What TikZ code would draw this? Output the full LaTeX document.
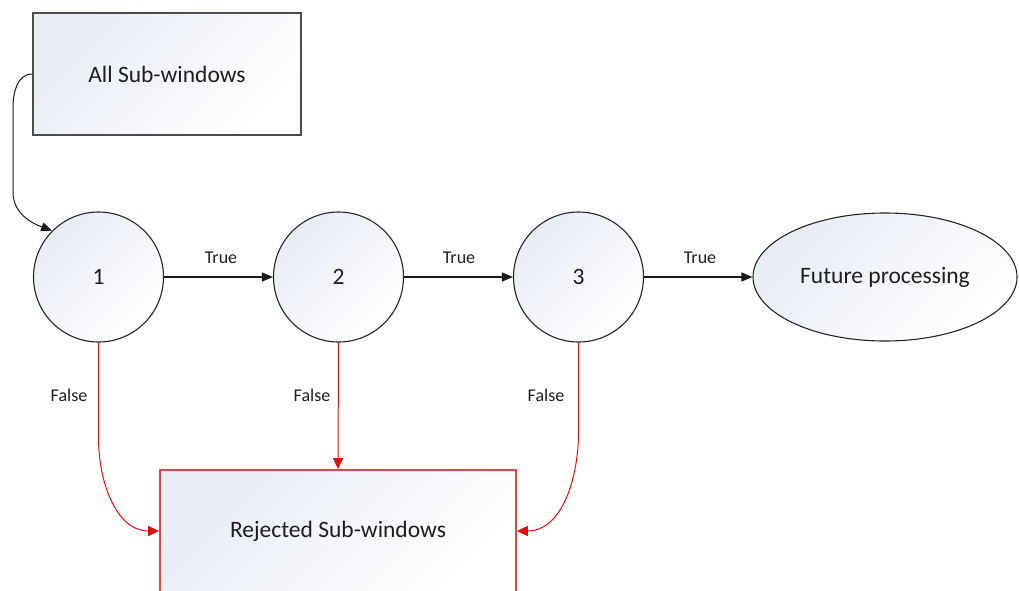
\documentclass[tikz,border=0pt]{standalone}
\usepackage{fontspec}
\setmainfont{Carlito}
\usetikzlibrary{shapes.geometric,arrows.meta}
\definecolor{paleblue}{HTML}{E8ECF5}
\definecolor{inkgray}{HTML}{1E1E1E}
\definecolor{rejred}{HTML}{E01010}
\definecolor{rejedge}{HTML}{D24A4A}
\tikzset{
  softfill/.style={shading=axis, top color=paleblue, bottom color=white, shading angle=45},
  bigtext/.style={font=\fontsize{23.5}{26}\selectfont, text=inkgray},
  boxnode/.style={draw=black!70, line width=1.4pt, softfill, bigtext, rectangle},
  stage/.style={draw=black!85, line width=1.1pt, softfill, bigtext, circle, minimum size=130pt, inner sep=0pt},
  goal/.style={draw=black!85, line width=1.1pt, softfill, bigtext, ellipse, minimum width=264pt, minimum height=128pt, inner sep=0pt},
  rejbox/.style={draw=rejedge, line width=1.6pt, softfill, bigtext, rectangle},
  lbl/.style={font=\fontsize{18}{20}\selectfont, text=inkgray, inner sep=0pt},
  yes/.style={draw=black!90, line width=1.2pt, -{Triangle[length=11pt,width=9pt]}},
  no/.style={draw=rejred, line width=1pt, -{Triangle[length=11pt,width=10pt]}},
}
\begin{document}
\begin{tikzpicture}[x=1pt,y=1pt]
\useasboundingbox (0,0) rectangle (1019,-590);

% source box and the chain of stages
\node[boxnode, minimum width=268pt, minimum height=122pt] (all) at (167,-74) {All Sub-windows};
\node[stage] (n1) at (98.5,-277) {1};
\node[stage] (n2) at (338.5,-277) {2};
\node[stage] (n3) at (578.5,-277) {3};
\node[goal] (fut) at (885,-277) {Future processing};
\node[rejbox, minimum width=356pt, minimum height=122pt] (rej) at (338,-531) {Rejected Sub-windows};

% entry path into the first stage
\coordinate (e1) at (13,-108);
\coordinate (e2) at (13,-192);
\draw[yes, line width=1pt] (all.west) to[out=180,in=90] (e1) -- (e2) to[out=-90,in=160] (n1.135);

% accepted windows move right
\draw[yes] (n1.east) -- (n2.west);
\draw[yes] (n2.east) -- (n3.west);
\draw[yes] (n3.east) -- (fut.west);
\node[lbl] (t1) at (221,-258) {True};
\node[lbl] (t2) at (459,-258) {True};
\node[lbl] (t3) at (700,-258) {True};

% rejected windows drop down
\coordinate (r1) at (98.5,-438);
\coordinate (r3) at (578.5,-432);
\draw[no] (n1.south) -- (r1) to[out=-90,in=180] (rej.west);
\draw[no] (n2.south) -- (rej.north);
\draw[no] (n3.south) -- (r3) to[out=-90,in=0] (rej.east);
\node[lbl] (f1) at (69,-395) {False};
\node[lbl] (f2) at (312,-395) {False};
\node[lbl] (f3) at (546,-395) {False};
\end{tikzpicture}
\end{document}
